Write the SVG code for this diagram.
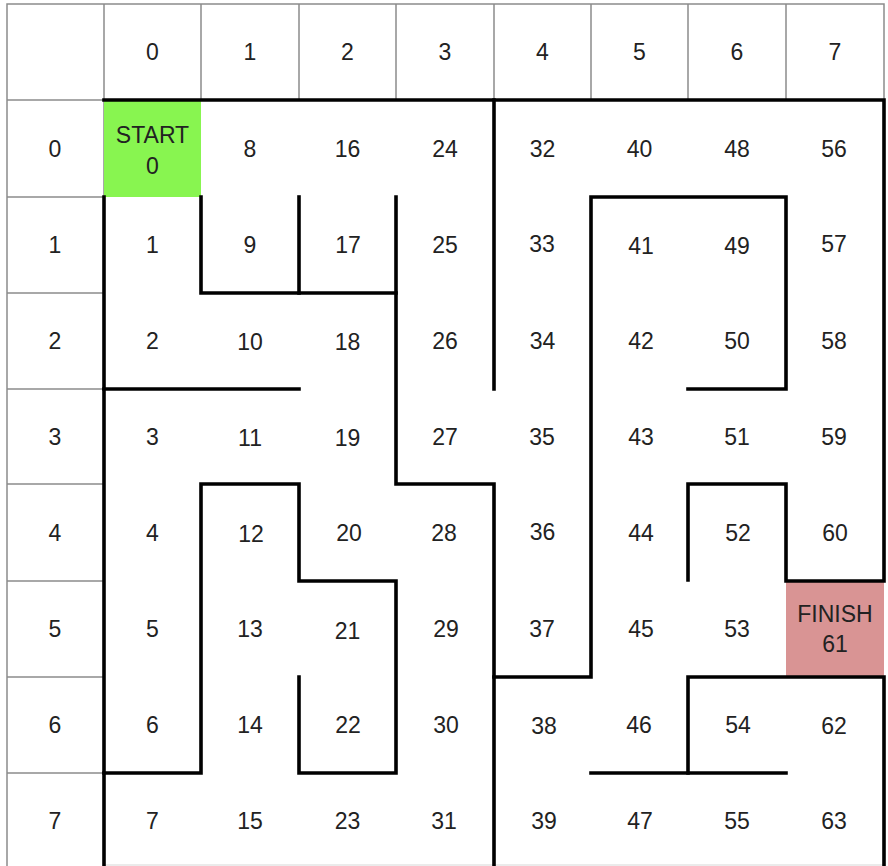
<svg xmlns="http://www.w3.org/2000/svg" width="888" height="866" viewBox="0 0 888 866">
<style>
  .t{font-family:"Liberation Sans",Arial,sans-serif;font-size:23px;fill:#222;text-anchor:middle;dominant-baseline:central}
  .g{fill:none;stroke:#8c8c8c;stroke-width:1.5}
  .w{fill:none;stroke:#000;stroke-width:3.6;stroke-linecap:square;stroke-linejoin:miter}
</style>
<rect width="888" height="866" fill="#fff"/>
<g id="header-grid">
  <path class="g" d="M7,866V4H884V100M7,100H104V866M104,4V100M201,4V100M299,4V100M396,4V100M494,4V100M591,4V100M688,4V100M786,4V100M7,197H104M7,293H104M7,389H104M7,484H104M7,581H104M7,677H104M7,773H104"/>
  <path d="M104,865H884" fill="none" stroke="#e4e4e4" stroke-width="1.5"/>
</g>
<g id="headers">
  <text class="t" x="152.5" y="52">0</text><text class="t" x="250" y="52">1</text><text class="t" x="347.5" y="52">2</text><text class="t" x="445" y="52">3</text><text class="t" x="542.5" y="52">4</text><text class="t" x="639.5" y="52">5</text><text class="t" x="737" y="52">6</text><text class="t" x="835" y="52">7</text>
  <text class="t" x="55" y="149">0</text><text class="t" x="55" y="245">1</text><text class="t" x="55" y="341">2</text><text class="t" x="55" y="437">3</text><text class="t" x="55" y="533">4</text><text class="t" x="55" y="629">5</text><text class="t" x="55" y="725">6</text><text class="t" x="55" y="821">7</text>
</g>
<g id="cell-start"><rect x="104" y="100" width="97" height="97" fill="#88f550"/><text class="t" x="152.5" y="135">START</text><text class="t" x="152.5" y="166">0</text></g>
<g id="cell-finish"><rect x="786" y="581" width="98" height="96" fill="#d99494"/><text class="t" x="835" y="614">FINISH</text><text class="t" x="835" y="644">61</text></g>
<g id="cells">
  <g id="c1"><text class="t" x="152.5" y="245">1</text></g>
  <g id="c2"><text class="t" x="152.5" y="341">2</text></g>
  <g id="c3"><text class="t" x="152.5" y="437">3</text></g>
  <g id="c4"><text class="t" x="152.5" y="533">4</text></g>
  <g id="c5"><text class="t" x="152.5" y="629">5</text></g>
  <g id="c6"><text class="t" x="152.5" y="725">6</text></g>
  <g id="c7"><text class="t" x="152.5" y="821">7</text></g>
  <g id="c8"><text class="t" x="250" y="149">8</text></g>
  <g id="c9"><text class="t" x="250" y="245">9</text></g>
  <g id="c10"><text class="t" x="250" y="342">10</text></g>
  <g id="c11"><text class="t" x="250" y="438">11</text></g>
  <g id="c12"><text class="t" x="251" y="534">12</text></g>
  <g id="c13"><text class="t" x="250" y="629">13</text></g>
  <g id="c14"><text class="t" x="250" y="725">14</text></g>
  <g id="c15"><text class="t" x="250" y="821">15</text></g>
  <g id="c16"><text class="t" x="347.5" y="149">16</text></g>
  <g id="c17"><text class="t" x="348" y="245">17</text></g>
  <g id="c18"><text class="t" x="347.5" y="342">18</text></g>
  <g id="c19"><text class="t" x="347.5" y="438">19</text></g>
  <g id="c20"><text class="t" x="349" y="533">20</text></g>
  <g id="c21"><text class="t" x="347.5" y="631">21</text></g>
  <g id="c22"><text class="t" x="348" y="725">22</text></g>
  <g id="c23"><text class="t" x="347.5" y="821">23</text></g>
  <g id="c24"><text class="t" x="445" y="149">24</text></g>
  <g id="c25"><text class="t" x="445" y="245">25</text></g>
  <g id="c26"><text class="t" x="445" y="341">26</text></g>
  <g id="c27"><text class="t" x="445" y="437">27</text></g>
  <g id="c28"><text class="t" x="444" y="533">28</text></g>
  <g id="c29"><text class="t" x="446" y="629">29</text></g>
  <g id="c30"><text class="t" x="446" y="725">30</text></g>
  <g id="c31"><text class="t" x="444" y="821">31</text></g>
  <g id="c32"><text class="t" x="542.5" y="149">32</text></g>
  <g id="c33"><text class="t" x="542" y="244">33</text></g>
  <g id="c34"><text class="t" x="542.5" y="341">34</text></g>
  <g id="c35"><text class="t" x="542" y="437">35</text></g>
  <g id="c36"><text class="t" x="542.5" y="532">36</text></g>
  <g id="c37"><text class="t" x="542" y="629">37</text></g>
  <g id="c38"><text class="t" x="544" y="726">38</text></g>
  <g id="c39"><text class="t" x="544" y="821">39</text></g>
  <g id="c40"><text class="t" x="639.5" y="149">40</text></g>
  <g id="c41"><text class="t" x="641" y="246">41</text></g>
  <g id="c42"><text class="t" x="641" y="341">42</text></g>
  <g id="c43"><text class="t" x="641" y="437">43</text></g>
  <g id="c44"><text class="t" x="641" y="533">44</text></g>
  <g id="c45"><text class="t" x="641" y="629">45</text></g>
  <g id="c46"><text class="t" x="639" y="725">46</text></g>
  <g id="c47"><text class="t" x="640" y="821">47</text></g>
  <g id="c48"><text class="t" x="737" y="149">48</text></g>
  <g id="c49"><text class="t" x="737" y="246">49</text></g>
  <g id="c50"><text class="t" x="737" y="341">50</text></g>
  <g id="c51"><text class="t" x="737" y="437">51</text></g>
  <g id="c52"><text class="t" x="738" y="533">52</text></g>
  <g id="c53"><text class="t" x="737" y="629">53</text></g>
  <g id="c54"><text class="t" x="738" y="725">54</text></g>
  <g id="c55"><text class="t" x="737" y="821">55</text></g>
  <g id="c56"><text class="t" x="834" y="149">56</text></g>
  <g id="c57"><text class="t" x="834" y="244">57</text></g>
  <g id="c58"><text class="t" x="834" y="341">58</text></g>
  <g id="c59"><text class="t" x="834" y="437">59</text></g>
  <g id="c60"><text class="t" x="835" y="533">60</text></g>
  <g id="c62"><text class="t" x="834" y="726">62</text></g>
  <g id="c63"><text class="t" x="834" y="821">63</text></g>
</g>
<g id="walls">
  <path class="w" d="M104,100H884V581H786V484H688V580"/>
  <path class="w" d="M104,197V866"/>
  <path class="w" d="M884,866V677H688V773"/>
  <path class="w" d="M591,773H786"/>
  <path class="w" d="M201,197V293H396"/>
  <path class="w" d="M299,197V293"/>
  <path class="w" d="M396,197V484H494V866"/>
  <path class="w" d="M494,100V389"/>
  <path class="w" d="M494,677H591V197H786V389H688"/>
  <path class="w" d="M104,389H299"/>
  <path class="w" d="M104,773H201V484H299V581H396V773H299V677"/>
</g>
</svg>
